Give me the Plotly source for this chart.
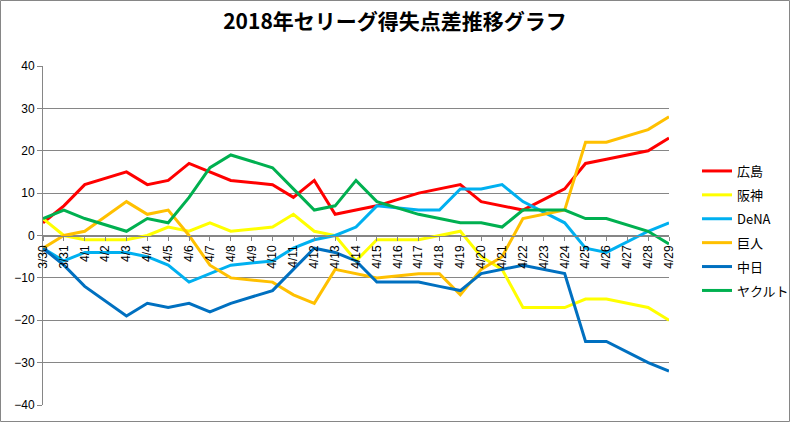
import plotly.graph_objects as go

dates = ["3/30", "3/31", "4/1", "4/2", "4/3", "4/4", "4/5", "4/6", "4/7", "4/8",
         "4/9", "4/10", "4/11", "4/12", "4/13", "4/14", "4/15", "4/16", "4/17", "4/18",
         "4/19", "4/20", "4/21", "4/22", "4/23", "4/24", "4/25", "4/26", "4/27", "4/28", "4/29"]
N = None
hiroshima = [3, 7, 12, N, 15, 12, 13, 17, 15, 13, N, 12, 9, 13, 5, 6, 7, N, 10, 11, 12, 8, 7, 6, N, 11, 17, 18, N, 20, 23]
hanshin = [4, 0, -1, N, -1, 0, 2, 1, 3, 1, N, 2, 5, 1, 0, -6, -1, N, -1, 0, 1, -5, -8, -17, N, -17, -15, -15, N, -17, -20]
dena = [-3, -6, -4, N, -4, -5, -7, -11, -9, -7, N, -6, -3, -1, 0, 2, 7, N, 6, 6, 11, 11, 12, 8, N, 3, -3, -4, N, 1, 3]
giants = [-3, 0, 1, N, 8, 5, 6, 0, -7, -10, N, -11, -14, -16, -8, -9, -10, N, -9, -9, -14, -8, -5, 4, N, 6, 22, 22, N, 25, 28]
chunichi = [-3, -7, -12, N, -19, -16, -17, -16, -18, -16, N, -13, -8, -3, -4, -6, -11, N, -11, -12, -13, -9, -8, -7, N, -9, -25, -25, N, -30, -32]
yakult = [4, 6, 4, N, 1, 4, 3, 9, 16, 19, N, 16, 11, 6, 7, 13, 8, N, 5, 4, 3, 3, 2, 6, N, 6, 4, 4, N, 1, -2]

series = [
    ("広島", hiroshima, "#FF0000"),
    ("阪神", hanshin, "#FFFF00"),
    ("DeNA", dena, "#00B0F0"),
    ("巨人", giants, "#FFC000"),
    ("中日", chunichi, "#0070C0"),
    ("ヤクルト", yakult, "#00B050"),
]

fig = go.Figure()
for name, vals, col in series:
    fig.add_trace(go.Scatter(x=dates, y=vals, name=name, mode="lines",
                             line=dict(color=col, width=3), connectgaps=True,
                             legendgroup=name))

L, R, T, B = 43, 121, 66, 17
W, H = 790, 422
pw, ph = W - L - R, H - T - B

fig.update_layout(
    width=W, height=H,
    margin=dict(l=L, r=R, t=T, b=B, autoexpand=False),
    paper_bgcolor="white", plot_bgcolor="white",
    title=dict(text="<b>2018年セリーグ得失点差推移グラフ</b>", x=0.5, xanchor="center",
               y=1 - 22 / H, yanchor="middle",
               font=dict(family="Noto Sans CJK JP", size=21, color="black")),
    font=dict(family="Liberation Sans, Noto Sans CJK JP", size=12, color="black"),
    showlegend=True,
    legend=dict(xref="container", yref="container", x=697 / W, xanchor="left",
                y=1 - 156 / H, yanchor="top",
                font=dict(family="Noto Sans CJK JP", size=13, color="black"),
                tracegroupgap=4, bgcolor="rgba(0,0,0,0)"),
    xaxis=dict(type="category", range=[0, len(dates) - 1], anchor="free", position=0.5,
               showgrid=False, showline=True, linecolor="#868686", linewidth=1,
               ticks="outside", ticklen=4, tickcolor="#868686", tickangle=-90,
               tickfont=dict(size=12, color="black"), zeroline=False),
    yaxis=dict(range=[-40, 40], dtick=10, showgrid=True, gridcolor="#868686", gridwidth=1,
               showline=True, linecolor="#868686", linewidth=1, ticks="outside", ticklen=5,
               tickcolor="#868686", zeroline=False, tickfont=dict(size=12, color="black")),
)

fig.add_shape(type="rect", xref="paper", yref="paper",
              x0=-(L - 0.5) / pw, x1=(W - 0.5 - L) / pw,
              y0=-(B - 0.5) / ph, y1=(H - 0.5 - B) / ph,
              line=dict(color="#868686", width=1), layer="below")

fig.write_html("out.html", config={"displayModeBar": False},
               post_script="document.body.style.margin='0';document.body.style.overflow='hidden';")
